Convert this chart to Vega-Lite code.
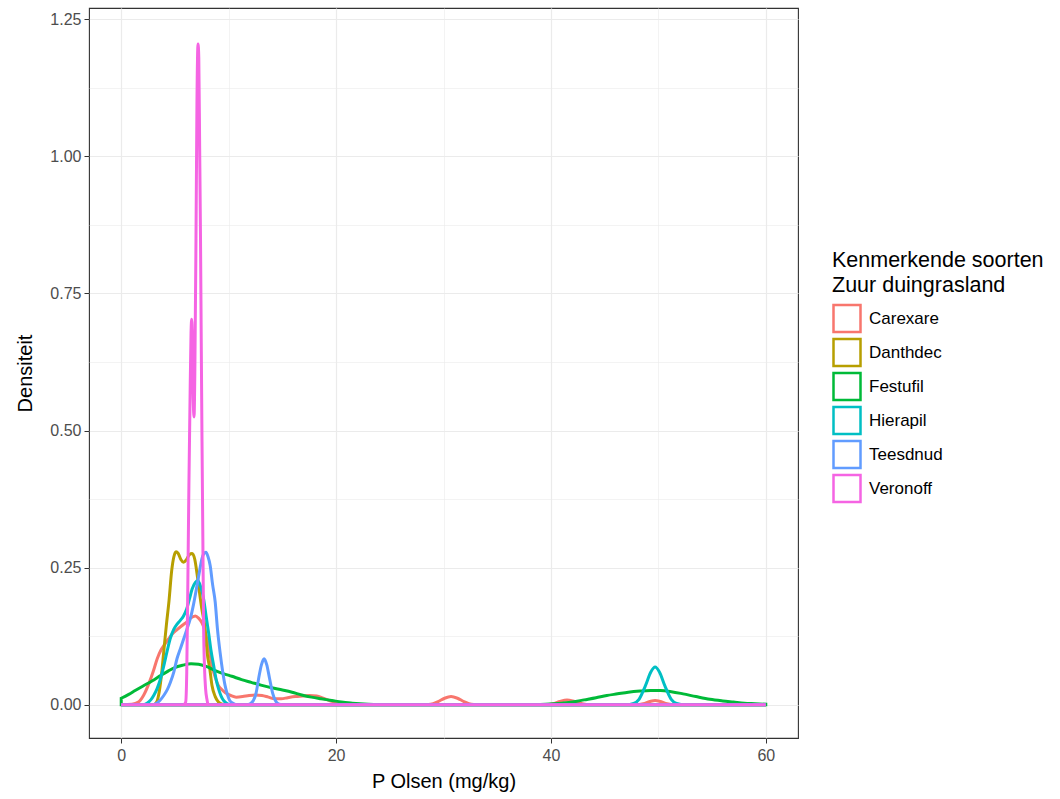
{
  "$schema": "https://vega.github.io/schema/vega-lite/v6.json",
  "autosize": {"type": "none"},
  "width": 709,
  "height": 730,
  "padding": {"left": 89, "top": 8, "right": 262, "bottom": 61},
  "background": "white",
  "config": {
    "font": "Liberation Sans",
    "view": {"stroke": "#333333", "strokeWidth": 1.1},
    "axis": {
      "domain": false,
      "gridColor": "#EBEBEB",
      "tickColor": "#333333",
      "tickSize": 5,
      "labelColor": "#4D4D4D",
      "labelFontSize": 16,
      "titleFontSize": 20,
      "titleFontWeight": "normal",
      "titleColor": "#000000"
    }
  },
  "data": {
    "values": [
      {"s":"Carexare","x":0,"y":0},{"s":"Carexare","x":1.0,"y":0.001},{"s":"Carexare","x":1.6,"y":0.005},{"s":"Carexare","x":2.1,"y":0.018},{"s":"Carexare","x":2.6,"y":0.04},{"s":"Carexare","x":3.0,"y":0.062},{"s":"Carexare","x":3.35,"y":0.084},{"s":"Carexare","x":3.7,"y":0.1},{"s":"Carexare","x":4.0,"y":0.109},{"s":"Carexare","x":4.4,"y":0.12},{"s":"Carexare","x":4.75,"y":0.129},{"s":"Carexare","x":5.2,"y":0.137},{"s":"Carexare","x":5.7,"y":0.145},{"s":"Carexare","x":6.1,"y":0.151},{"s":"Carexare","x":6.45,"y":0.158},{"s":"Carexare","x":6.9,"y":0.162},{"s":"Carexare","x":7.2,"y":0.158},{"s":"Carexare","x":7.5,"y":0.15},{"s":"Carexare","x":7.75,"y":0.138},{"s":"Carexare","x":8.0,"y":0.118},{"s":"Carexare","x":8.25,"y":0.094},{"s":"Carexare","x":8.45,"y":0.072},{"s":"Carexare","x":8.75,"y":0.05},{"s":"Carexare","x":9.05,"y":0.035},{"s":"Carexare","x":9.4,"y":0.027},{"s":"Carexare","x":9.7,"y":0.022},{"s":"Carexare","x":10.2,"y":0.017},{"s":"Carexare","x":10.7,"y":0.014},{"s":"Carexare","x":11.3,"y":0.015},{"s":"Carexare","x":11.9,"y":0.017},{"s":"Carexare","x":12.5,"y":0.018},{"s":"Carexare","x":13.1,"y":0.017},{"s":"Carexare","x":13.7,"y":0.014},{"s":"Carexare","x":14.3,"y":0.011},{"s":"Carexare","x":14.9,"y":0.011},{"s":"Carexare","x":15.5,"y":0.013},{"s":"Carexare","x":16.2,"y":0.015},{"s":"Carexare","x":16.9,"y":0.016},{"s":"Carexare","x":17.5,"y":0.017},{"s":"Carexare","x":18.2,"y":0.016},{"s":"Carexare","x":18.8,"y":0.012},{"s":"Carexare","x":19.5,"y":0.007},{"s":"Carexare","x":20.2,"y":0.003},{"s":"Carexare","x":21,"y":0.001},{"s":"Carexare","x":22,"y":0},{"s":"Carexare","x":28,"y":0},{"s":"Carexare","x":28.8,"y":0.001},{"s":"Carexare","x":29.5,"y":0.006},{"s":"Carexare","x":30.1,"y":0.012},{"s":"Carexare","x":30.7,"y":0.015},{"s":"Carexare","x":31.3,"y":0.012},{"s":"Carexare","x":31.9,"y":0.006},{"s":"Carexare","x":32.6,"y":0.001},{"s":"Carexare","x":33.5,"y":0},{"s":"Carexare","x":39.5,"y":0},{"s":"Carexare","x":40.2,"y":0.002},{"s":"Carexare","x":40.8,"y":0.006},{"s":"Carexare","x":41.5,"y":0.009},{"s":"Carexare","x":42.2,"y":0.006},{"s":"Carexare","x":42.9,"y":0.002},{"s":"Carexare","x":43.6,"y":0},{"s":"Carexare","x":48,"y":0},{"s":"Carexare","x":48.6,"y":0.002},{"s":"Carexare","x":49.2,"y":0.006},{"s":"Carexare","x":49.7,"y":0.008},{"s":"Carexare","x":50.2,"y":0.006},{"s":"Carexare","x":50.8,"y":0.002},{"s":"Carexare","x":51.5,"y":0},{"s":"Carexare","x":60,"y":0},

      {"s":"Danthdec","x":0,"y":0},{"s":"Danthdec","x":3.0,"y":0},{"s":"Danthdec","x":3.3,"y":0.005},{"s":"Danthdec","x":3.55,"y":0.025},{"s":"Danthdec","x":3.75,"y":0.055},{"s":"Danthdec","x":3.95,"y":0.095},{"s":"Danthdec","x":4.2,"y":0.145},{"s":"Danthdec","x":4.45,"y":0.19},{"s":"Danthdec","x":4.7,"y":0.245},{"s":"Danthdec","x":4.9,"y":0.27},{"s":"Danthdec","x":5.1,"y":0.279},{"s":"Danthdec","x":5.3,"y":0.276},{"s":"Danthdec","x":5.55,"y":0.265},{"s":"Danthdec","x":5.8,"y":0.26},{"s":"Danthdec","x":6.05,"y":0.264},{"s":"Danthdec","x":6.35,"y":0.274},{"s":"Danthdec","x":6.6,"y":0.276},{"s":"Danthdec","x":6.85,"y":0.265},{"s":"Danthdec","x":7.05,"y":0.24},{"s":"Danthdec","x":7.25,"y":0.21},{"s":"Danthdec","x":7.5,"y":0.175},{"s":"Danthdec","x":7.8,"y":0.14},{"s":"Danthdec","x":8.0,"y":0.095},{"s":"Danthdec","x":8.25,"y":0.065},{"s":"Danthdec","x":8.45,"y":0.035},{"s":"Danthdec","x":8.75,"y":0.015},{"s":"Danthdec","x":9.05,"y":0.005},{"s":"Danthdec","x":9.4,"y":0.001},{"s":"Danthdec","x":9.8,"y":0},{"s":"Danthdec","x":60,"y":0},

      {"s":"Festufil","x":0,"y":0.012},{"s":"Festufil","x":0.7,"y":0.019},{"s":"Festufil","x":1.3,"y":0.026},{"s":"Festufil","x":2.0,"y":0.034},{"s":"Festufil","x":2.9,"y":0.044},{"s":"Festufil","x":3.7,"y":0.054},{"s":"Festufil","x":4.4,"y":0.062},{"s":"Festufil","x":5.0,"y":0.068},{"s":"Festufil","x":5.7,"y":0.072},{"s":"Festufil","x":6.5,"y":0.075},{"s":"Festufil","x":7.2,"y":0.074},{"s":"Festufil","x":7.9,"y":0.07},{"s":"Festufil","x":8.7,"y":0.063},{"s":"Festufil","x":9.5,"y":0.057},{"s":"Festufil","x":10.3,"y":0.052},{"s":"Festufil","x":11.2,"y":0.046},{"s":"Festufil","x":12.1,"y":0.041},{"s":"Festufil","x":13.0,"y":0.036},{"s":"Festufil","x":14.0,"y":0.031},{"s":"Festufil","x":15.0,"y":0.027},{"s":"Festufil","x":15.9,"y":0.023},{"s":"Festufil","x":16.8,"y":0.018},{"s":"Festufil","x":17.7,"y":0.014},{"s":"Festufil","x":18.6,"y":0.011},{"s":"Festufil","x":19.6,"y":0.008},{"s":"Festufil","x":20.5,"y":0.005},{"s":"Festufil","x":21.5,"y":0.003},{"s":"Festufil","x":23,"y":0.001},{"s":"Festufil","x":25,"y":0},{"s":"Festufil","x":38,"y":0},{"s":"Festufil","x":39.5,"y":0.001},{"s":"Festufil","x":41,"y":0.003},{"s":"Festufil","x":42,"y":0.005},{"s":"Festufil","x":43.1,"y":0.009},{"s":"Festufil","x":44.2,"y":0.013},{"s":"Festufil","x":45.2,"y":0.017},{"s":"Festufil","x":46.2,"y":0.02},{"s":"Festufil","x":47.2,"y":0.023},{"s":"Festufil","x":48.3,"y":0.025},{"s":"Festufil","x":49.3,"y":0.026},{"s":"Festufil","x":50.2,"y":0.026},{"s":"Festufil","x":51.2,"y":0.024},{"s":"Festufil","x":52.3,"y":0.02},{"s":"Festufil","x":53.5,"y":0.015},{"s":"Festufil","x":54.8,"y":0.01},{"s":"Festufil","x":56,"y":0.007},{"s":"Festufil","x":57,"y":0.005},{"s":"Festufil","x":58,"y":0.003},{"s":"Festufil","x":59,"y":0.002},{"s":"Festufil","x":60,"y":0.001},

      {"s":"Hierapil","x":0,"y":0},{"s":"Hierapil","x":2.0,"y":0},{"s":"Hierapil","x":2.4,"y":0.003},{"s":"Hierapil","x":2.75,"y":0.009},{"s":"Hierapil","x":3.05,"y":0.018},{"s":"Hierapil","x":3.35,"y":0.03},{"s":"Hierapil","x":3.65,"y":0.047},{"s":"Hierapil","x":3.95,"y":0.07},{"s":"Hierapil","x":4.25,"y":0.096},{"s":"Hierapil","x":4.55,"y":0.12},{"s":"Hierapil","x":4.9,"y":0.138},{"s":"Hierapil","x":5.2,"y":0.147},{"s":"Hierapil","x":5.5,"y":0.154},{"s":"Hierapil","x":5.8,"y":0.162},{"s":"Hierapil","x":6.1,"y":0.175},{"s":"Hierapil","x":6.35,"y":0.193},{"s":"Hierapil","x":6.6,"y":0.211},{"s":"Hierapil","x":6.9,"y":0.223},{"s":"Hierapil","x":7.14,"y":0.226},{"s":"Hierapil","x":7.4,"y":0.215},{"s":"Hierapil","x":7.67,"y":0.193},{"s":"Hierapil","x":7.9,"y":0.162},{"s":"Hierapil","x":8.13,"y":0.132},{"s":"Hierapil","x":8.35,"y":0.1},{"s":"Hierapil","x":8.6,"y":0.072},{"s":"Hierapil","x":8.85,"y":0.045},{"s":"Hierapil","x":9.06,"y":0.029},{"s":"Hierapil","x":9.3,"y":0.016},{"s":"Hierapil","x":9.52,"y":0.008},{"s":"Hierapil","x":9.8,"y":0.003},{"s":"Hierapil","x":10.2,"y":0},{"s":"Hierapil","x":47,"y":0},{"s":"Hierapil","x":47.7,"y":0.0024},{"s":"Hierapil","x":48.2,"y":0.01},{"s":"Hierapil","x":48.8,"y":0.035},{"s":"Hierapil","x":49.3,"y":0.06},{"s":"Hierapil","x":49.7,"y":0.069},{"s":"Hierapil","x":50.1,"y":0.06},{"s":"Hierapil","x":50.6,"y":0.035},{"s":"Hierapil","x":51.2,"y":0.01},{"s":"Hierapil","x":51.7,"y":0.0024},{"s":"Hierapil","x":52.5,"y":0},{"s":"Hierapil","x":60,"y":0},

      {"s":"Teesdnud","x":0,"y":0},{"s":"Teesdnud","x":2.9,"y":0},{"s":"Teesdnud","x":3.2,"y":0.002},{"s":"Teesdnud","x":3.6,"y":0.008},{"s":"Teesdnud","x":3.96,"y":0.017},{"s":"Teesdnud","x":4.3,"y":0.028},{"s":"Teesdnud","x":4.58,"y":0.041},{"s":"Teesdnud","x":4.9,"y":0.06},{"s":"Teesdnud","x":5.19,"y":0.084},{"s":"Teesdnud","x":5.5,"y":0.102},{"s":"Teesdnud","x":5.81,"y":0.12},{"s":"Teesdnud","x":6.1,"y":0.137},{"s":"Teesdnud","x":6.43,"y":0.157},{"s":"Teesdnud","x":6.75,"y":0.185},{"s":"Teesdnud","x":7.05,"y":0.217},{"s":"Teesdnud","x":7.3,"y":0.245},{"s":"Teesdnud","x":7.51,"y":0.266},{"s":"Teesdnud","x":7.7,"y":0.276},{"s":"Teesdnud","x":7.88,"y":0.278},{"s":"Teesdnud","x":8.08,"y":0.27},{"s":"Teesdnud","x":8.28,"y":0.254},{"s":"Teesdnud","x":8.5,"y":0.22},{"s":"Teesdnud","x":8.75,"y":0.187},{"s":"Teesdnud","x":8.95,"y":0.14},{"s":"Teesdnud","x":9.2,"y":0.096},{"s":"Teesdnud","x":9.45,"y":0.06},{"s":"Teesdnud","x":9.67,"y":0.035},{"s":"Teesdnud","x":9.9,"y":0.018},{"s":"Teesdnud","x":10.1,"y":0.008},{"s":"Teesdnud","x":10.4,"y":0.003},{"s":"Teesdnud","x":10.8,"y":0},{"s":"Teesdnud","x":11.6,"y":0},{"s":"Teesdnud","x":12.0,"y":0.002},{"s":"Teesdnud","x":12.3,"y":0.008},{"s":"Teesdnud","x":12.55,"y":0.021},{"s":"Teesdnud","x":12.8,"y":0.049},{"s":"Teesdnud","x":13.05,"y":0.073},{"s":"Teesdnud","x":13.3,"y":0.084},{"s":"Teesdnud","x":13.55,"y":0.073},{"s":"Teesdnud","x":13.8,"y":0.049},{"s":"Teesdnud","x":14.1,"y":0.021},{"s":"Teesdnud","x":14.4,"y":0.006},{"s":"Teesdnud","x":14.7,"y":0.001},{"s":"Teesdnud","x":15.0,"y":0},{"s":"Teesdnud","x":60,"y":0},

      {"s":"Veronoff","x":0,"y":0},{"s":"Veronoff","x":5.8,"y":0},{"s":"Veronoff","x":6.0,"y":0.005},{"s":"Veronoff","x":6.1,"y":0.06},{"s":"Veronoff","x":6.2,"y":0.22},{"s":"Veronoff","x":6.3,"y":0.4},{"s":"Veronoff","x":6.4,"y":0.55},{"s":"Veronoff","x":6.5,"y":0.68},{"s":"Veronoff","x":6.56,"y":0.703},{"s":"Veronoff","x":6.62,"y":0.67},{"s":"Veronoff","x":6.7,"y":0.56},{"s":"Veronoff","x":6.78,"y":0.525},{"s":"Veronoff","x":6.86,"y":0.62},{"s":"Veronoff","x":6.96,"y":0.85},{"s":"Veronoff","x":7.05,"y":1.1},{"s":"Veronoff","x":7.15,"y":1.205},{"s":"Veronoff","x":7.22,"y":1.18},{"s":"Veronoff","x":7.3,"y":1.02},{"s":"Veronoff","x":7.38,"y":0.85},{"s":"Veronoff","x":7.45,"y":0.66},{"s":"Veronoff","x":7.52,"y":0.48},{"s":"Veronoff","x":7.6,"y":0.3},{"s":"Veronoff","x":7.67,"y":0.14},{"s":"Veronoff","x":7.75,"y":0.07},{"s":"Veronoff","x":7.85,"y":0.03},{"s":"Veronoff","x":7.98,"y":0.01},{"s":"Veronoff","x":8.1,"y":0},{"s":"Veronoff","x":60,"y":0}
    ]
  },
  "mark": {"type": "area", "filled": false, "fill": null, "strokeWidth": 3, "interpolate": "monotone", "clip": true},
  "encoding": {
    "x": {
      "field": "x", "type": "quantitative",
      "scale": {"domain": [-3, 63], "nice": false, "zero": false},
      "axis": {
        "title": "P Olsen (mg/kg)",
        "values": [0, 10, 20, 30, 40, 50, 60],
        "labelExpr": "datum.value % 20 === 0 ? datum.label : ''",
        "gridWidth": {"condition": {"test": "datum.value % 20 === 0", "value": 1.2}, "value": 0.6},
        "tickOpacity": {"condition": {"test": "datum.value % 20 === 0", "value": 1}, "value": 0},
        "labelPadding": 4,
        "titlePadding": 8
      }
    },
    "y": {
      "field": "y", "type": "quantitative", "stack": null,
      "scale": {"domain": [-0.0605, 1.2705], "nice": false, "zero": false},
      "axis": {
        "title": "Densiteit",
        "values": [0, 0.125, 0.25, 0.375, 0.5, 0.625, 0.75, 0.875, 1, 1.125, 1.25],
        "format": ".2f",
        "labelExpr": "round(datum.value * 8) % 2 === 0 ? datum.label : ''",
        "gridWidth": {"condition": {"test": "round(datum.value * 8) % 2 === 0", "value": 1.2}, "value": 0.6},
        "tickOpacity": {"condition": {"test": "round(datum.value * 8) % 2 === 0", "value": 1}, "value": 0},
        "labelPadding": 3,
        "titlePadding": 14
      }
    },
    "color": {
      "field": "s", "type": "nominal",
      "scale": {
        "domain": ["Carexare", "Danthdec", "Festufil", "Hierapil", "Teesdnud", "Veronoff"],
        "range": ["#F8766D", "#B79F00", "#00BA38", "#00BFC4", "#619CFF", "#F564E3"]
      },
      "legend": {
        "title": ["Kenmerkende soorten", "Zuur duingrasland"],
        "orient": "none",
        "legendX": 743,
        "legendY": 242,
        "padding": 0,
        "titleFontSize": 21.5,
        "titleFontWeight": "normal",
        "titleColor": "#000000",
        "titleLineHeight": 25,
        "titlePadding": 7,
        "titleLimit": 400,
        "labelFontSize": 17,
        "labelColor": "#000000",
        "labelOffset": 7,
        "labelLimit": 200,
        "symbolType": "square",
        "symbolSize": 729,
        "symbolStrokeWidth": 2.5,
        "symbolFillColor": "white",
        "rowPadding": -9
      }
    }
  }
}
